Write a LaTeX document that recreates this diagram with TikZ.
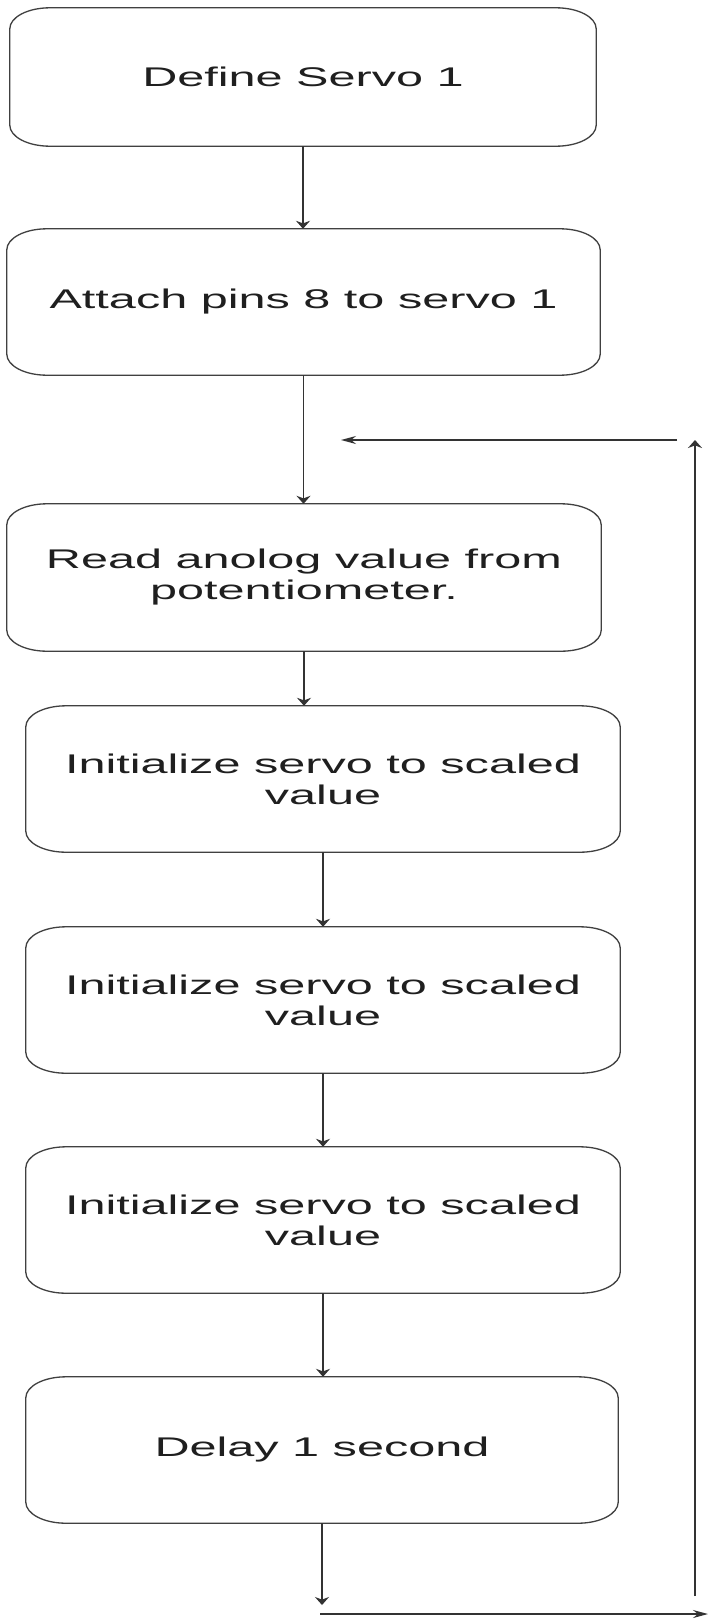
\documentclass[tikz,border=0pt]{standalone}
\usepackage{fontspec}
\usetikzlibrary{arrows.meta}
\newfontfamily\boxfont[FakeStretch=1.8]{Liberation Sans}

% rounded outline with elliptical corners around a named node
\newcommand\ovalbox[1]{%
  \draw[boxline]
    ([xshift=40pt]#1.north west) -- ([xshift=-40pt]#1.north east)
    arc[start angle=90, end angle=0, x radius=40pt, y radius=21pt]
    -- ([yshift=21pt]#1.south east)
    arc[start angle=0, end angle=-90, x radius=40pt, y radius=21pt]
    -- ([xshift=40pt]#1.south west)
    arc[start angle=270, end angle=180, x radius=40pt, y radius=21pt]
    -- ([yshift=-21pt]#1.north west)
    arc[start angle=180, end angle=90, x radius=40pt, y radius=21pt]
    -- cycle;}

\tikzset{
  x=1pt, y=1pt,
  boxline/.style={draw=black!75, line width=1.3pt},
  stepbox/.style={inner sep=0pt, align=center, text=black!88,
    font=\boxfont\fontsize{27}{31}\selectfont},
  flowv/.style={draw=black!80, line width=1.4pt,
    -{Stealth[length=8pt, width=14pt]}},
  flowh/.style={draw=black!80, line width=1.4pt,
    -{Stealth[length=15pt, width=8pt]}},
}

\begin{document}
\begin{tikzpicture}
\useasboundingbox[fill=white] (0,0) rectangle (708,-1619);

\node[stepbox, minimum width=586pt, minimum height=138pt] (b1) at (303,-77) {Define Servo 1};
\node[stepbox, minimum width=593pt, minimum height=146pt] (b2) at (303.5,-302) {Attach pins 8 to servo 1};
\node[stepbox, minimum width=594pt, minimum height=147pt] (b3) at (304,-577.5) {Read anolog value from\\potentiometer.};
\node[stepbox, minimum width=594pt, minimum height=146pt] (b4) at (323,-779) {Initialize servo to scaled\\value};
\node[stepbox, minimum width=594pt, minimum height=146pt] (b5) at (323,-1000) {Initialize servo to scaled\\value};
\node[stepbox, minimum width=594pt, minimum height=146pt] (b6) at (323,-1220) {Initialize servo to scaled\\value};
\node[stepbox, minimum width=592pt, minimum height=146pt] (b7) at (322,-1450) {Delay 1 second};

\foreach \n in {b1,b2,b3,b4,b5,b6,b7} {\ovalbox{\n}}

% main flow
\draw[flowv] (b1.south) -- (b1.south |- b2.north);
\draw[flowv] (b2.south) -- (b2.south |- b3.north);
\draw[flowv] (b3.south) -- (b3.south |- b4.north);
\draw[flowv] (b4.south) -- (b4.south |- b5.north);
\draw[flowv] (b5.south) -- (b5.south |- b6.north);
\draw[flowv] (b6.south) -- (b6.south |- b7.north);

% loop back to the reading step
\coordinate (endtip) at (322,-1605);
\coordinate (lb1) at (320,-1614);
\coordinate (lb2) at (708,-1614);
\coordinate (lv1) at (695,-1596);
\coordinate (lv2) at (695,-440);
\coordinate (lh1) at (677,-440);
\coordinate (lh2) at (341,-440);

\draw[flowv] (b7.south) -- (endtip);
\draw[flowh] (lb1) -- (lb2);
\draw[flowv] (lv1) -- (lv2);
\draw[flowh] (lh1) -- (lh2);
\end{tikzpicture}
\end{document}
